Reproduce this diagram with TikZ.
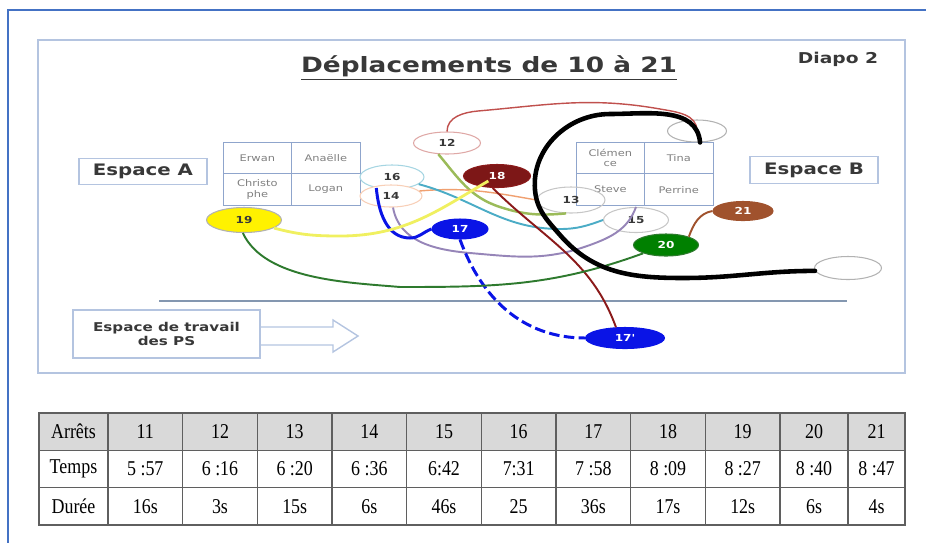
\documentclass[tikz,border=0pt]{standalone}
\usepackage{fontspec}
\usetikzlibrary{shapes.geometric}
\newfontfamily\slidefont[FakeStretch=1.25]{DejaVu Sans}
\newfontfamily\tabfont[FakeStretch=0.85]{Liberation Serif}
\definecolor{framebl}{HTML}{4472C4}
\definecolor{slidebd}{HTML}{B4C4E0}
\definecolor{gridbl}{HTML}{8FA5CC}
\definecolor{textgr}{HTML}{383838}
\definecolor{namegr}{HTML}{7F7F7F}
\definecolor{headgr}{HTML}{D9D9D9}
\definecolor{tabln}{HTML}{5F5F5F}
\definecolor{sepln}{HTML}{8497B0}
\definecolor{red11}{HTML}{C0504D}
\definecolor{olive12}{HTML}{9BBB59}
\definecolor{orange13}{HTML}{F0A070}
\definecolor{purple14}{HTML}{9685B8}
\definecolor{cyan15}{HTML}{4BACC6}
\definecolor{blue16}{HTML}{0A14E6}
\definecolor{red18}{HTML}{8B1A1A}
\definecolor{yellow19}{HTML}{F0F060}
\definecolor{green20}{HTML}{2E7A2E}
\definecolor{brown21}{HTML}{A0522D}
\tikzset{arret/.style={ellipse,draw=gray!60,line width=0.6pt,inner sep=0pt,minimum width=1.3cm,minimum height=0.44cm,
                       font=\slidefont\bfseries\fontsize{5.5}{6}\selectfont,text=textgr},
         namecell/.style={draw=gridbl,line width=0.5pt,minimum width=1.37cm,minimum height=0.635cm,inner sep=0pt,align=center,
                       font=\slidefont\fontsize{5.2}{6}\selectfont,text=namegr},
         espace/.style={draw=slidebd,line width=0.8pt,minimum width=2.56cm,minimum height=0.46cm,
                       font=\slidefont\bfseries\fontsize{9}{10}\selectfont,text=textgr},
         walk/.style={line width=1.1pt},
         tabcell/.style={draw=tabln,line width=0.8pt,minimum width=1.4933cm,minimum height=0.7467cm,inner sep=0pt,
                       font=\tabfont\fontsize{12}{13}\selectfont},
        }
\begin{document}
\begin{tikzpicture}[x=0.02cm,y=-0.02cm]
        \useasboundingbox(0,0)rectangle(926,542);
        \draw[framebl,line width=1.2pt](8,560)--(8,10)--(940,10);
        \draw[slidebd,line width=1.2pt](38,40)rectangle(905,373);

        \node[font=\slidefont\bfseries\fontsize{12}{14}\selectfont,text=textgr,anchor=base](titre)at(489,72){\underline{Déplacements de 10 à 21}};
        \node[font=\slidefont\bfseries\fontsize{8.5}{10}\selectfont,text=textgr,anchor=base](diapo)at(838,63){Diapo 2};
        \node[espace](espA)at(143,171.5){Espace A};
        \node[espace](espB)at(814,170){Espace B};

        \node[namecell](erwan)at(257.3,157.9){Erwan};
        \node[namecell](anaelle)at(325.8,157.9){Anaëlle};
        \node[namecell](christophe)at(257.3,189.6){Christo\\phe};
        \node[namecell](logan)at(325.8,189.6){Logan};
        \node[namecell](clemence)at(610.3,157.9){Clémen\\ce};
        \node[namecell](tina)at(678.8,157.9){Tina};
        \node[namecell](steve)at(610.3,189.6){Steve};
        \node[namecell](perrine)at(678.8,189.6){Perrine};

        \draw[sepln,line width=1.6pt](159,301)--(847,301);
        \draw[slidebd,line width=0.8pt](260,327)--(333,327)--(333,320)--(358,336)--(333,352)--(333,345)--(260,345);
        \node[espace,fill=white,minimum width=3.74cm,minimum height=0.96cm,align=center,
              font=\slidefont\bfseries\fontsize{6.9}{8.5}\selectfont](ps)at(166.5,334){Espace de travail\\des PS};

        \node[arret,minimum width=1.34cm,minimum height=0.46cm](s10)at(848,268){};
        \node[arret,minimum width=1.18cm,minimum height=0.44cm](s11)at(697,131){};
        \node[arret,draw=red11!50,fill=white,minimum width=1.34cm](n12)at(447,143){12};
        \node[arret,draw=gray!45,minimum width=1.36cm,minimum height=0.52cm](n13)at(571,200){13};
        \node[arret,draw=cyan15!50,fill=white,minimum width=1.28cm,minimum height=0.48cm](n16)at(392,177){16};
        \node[arret,draw=orange13!50,fill=white,minimum width=1.24cm](n14)at(391,196){14};
        \node[arret,draw=gray!45,minimum height=0.5cm](n15)at(636,220){15};
        \node[arret,draw=blue16,fill=blue16,text=white,minimum width=1.12cm,minimum height=0.4cm](n17)at(460,229){17};
        \node[arret,draw=blue16,fill=blue16,text=white,minimum width=1.58cm,minimum height=0.42cm](n17p)at(625,338){17'};
        \node[arret,draw=red18,fill=red18!90!black,text=white,minimum width=1.34cm,minimum height=0.46cm](n18)at(497,176){18};
        \node[arret,fill=yellow,minimum width=1.5cm,minimum height=0.5cm](n19)at(244,220){19};
        \node[arret,draw=green20,fill=green!50!black,text=white](n20)at(666,245){20};
        \node[arret,draw=brown21,fill=brown21,text=white,minimum width=1.2cm,minimum height=0.38cm](n21)at(743,211){21};

        \draw[walk,red11,line width=0.8pt](n12.north)to[out=90,in=185](478,111)to[out=5,in=170](660,109)to[out=-10,in=90](s11.center);
        \draw[walk,olive12,line width=1.4pt](n12.232)to[out=-50,in=162](500,207)to[out=-18,in=185](n13.250);
        \draw[walk,orange13,line width=0.8pt](n14.10)to[out=5,in=170](n13.west);
        \draw[walk,purple14](n14.280)to[out=-80,in=175](470,253)to[out=-5,in=200](590,245)to[out=20,in=-110](n15.north);
        \draw[walk,cyan15](n16.-15)to[out=-15,in=180](560,229)to[out=0,in=-160](n15.west);
        \draw[walk,blue16,line width=1.7pt](n16.215)to[out=-85,in=180](410,238)to[out=0,in=200](n17.west);
        \draw[walk,blue16,line width=1.7pt,dash pattern=on 6pt off 2.5pt](n17.south)to[out=-70,in=180](n17p.west);
        \draw[walk,red18](n18.250)to[out=-45,in=110](n17p.130);
        \draw[walk,yellow19,line width=1.6pt,shorten >=0.2cm](n19.-15)to[out=-15,in=180](340,236)to[out=0,in=210](n18.center);
        \draw[walk,green20](n19.265)to[out=-65,in=175,looseness=0.8](400,287)to[out=0,in=200](n20.200);
        \draw[walk,brown21](n20.20)to[out=70,in=190](n21.west);
        \draw[line width=2.6pt,line cap=round](s10.185)to[out=180,in=0](683,278)to[out=180,in=-49](560,235)to[out=131,in=-85](535,190)
              to[out=95,in=180](610,114)to[out=0,in=95](s11.285);

        \node[tabcell,fill=headgr,minimum width=1.38cm](a0)at(73.5,431.7){Arrêts};
        \node[tabcell,fill=headgr](a1)at(145.3,431.7){11};
        \node[tabcell,fill=headgr](a2)at(220,431.7){12};
        \node[tabcell,fill=headgr](a3)at(294.7,431.7){13};
        \node[tabcell,fill=headgr](a4)at(369.3,431.7){14};
        \node[tabcell,fill=headgr](a5)at(444,431.7){15};
        \node[tabcell,fill=headgr](a6)at(518.7,431.7){16};
        \node[tabcell,fill=headgr](a7)at(593.3,431.7){17};
        \node[tabcell,fill=headgr](a8)at(668,431.7){18};
        \node[tabcell,fill=headgr](a9)at(742.7,431.7){19};
        \node[tabcell,fill=headgr,minimum width=1.36cm](a10)at(814,431.7){20};
        \node[tabcell,fill=headgr,minimum width=1.14cm](a11)at(876.5,431.7){21};

        \node[tabcell,minimum width=1.38cm](t0)at(73.5,469){Temps};
        \node[tabcell](t1)at(145.3,469){5 :57};
        \node[tabcell](t2)at(220,469){6 :16};
        \node[tabcell](t3)at(294.7,469){6 :20};
        \node[tabcell](t4)at(369.3,469){6 :36};
        \node[tabcell](t5)at(444,469){6:42};
        \node[tabcell](t6)at(518.7,469){7:31};
        \node[tabcell](t7)at(593.3,469){7 :58};
        \node[tabcell](t8)at(668,469){8 :09};
        \node[tabcell](t9)at(742.7,469){8 :27};
        \node[tabcell,minimum width=1.36cm](t10)at(814,469){8 :40};
        \node[tabcell,minimum width=1.14cm](t11)at(876.5,469){8 :47};

        \node[tabcell,minimum width=1.38cm](d0)at(73.5,506.3){Durée};
        \node[tabcell](d1)at(145.3,506.3){16s};
        \node[tabcell](d2)at(220,506.3){3s};
        \node[tabcell](d3)at(294.7,506.3){15s};
        \node[tabcell](d4)at(369.3,506.3){6s};
        \node[tabcell](d5)at(444,506.3){46s};
        \node[tabcell](d6)at(518.7,506.3){25};
        \node[tabcell](d7)at(593.3,506.3){36s};
        \node[tabcell](d8)at(668,506.3){17s};
        \node[tabcell](d9)at(742.7,506.3){12s};
        \node[tabcell,minimum width=1.36cm](d10)at(814,506.3){6s};
        \node[tabcell,minimum width=1.14cm](d11)at(876.5,506.3){4s};
\end{tikzpicture}
\end{document}
